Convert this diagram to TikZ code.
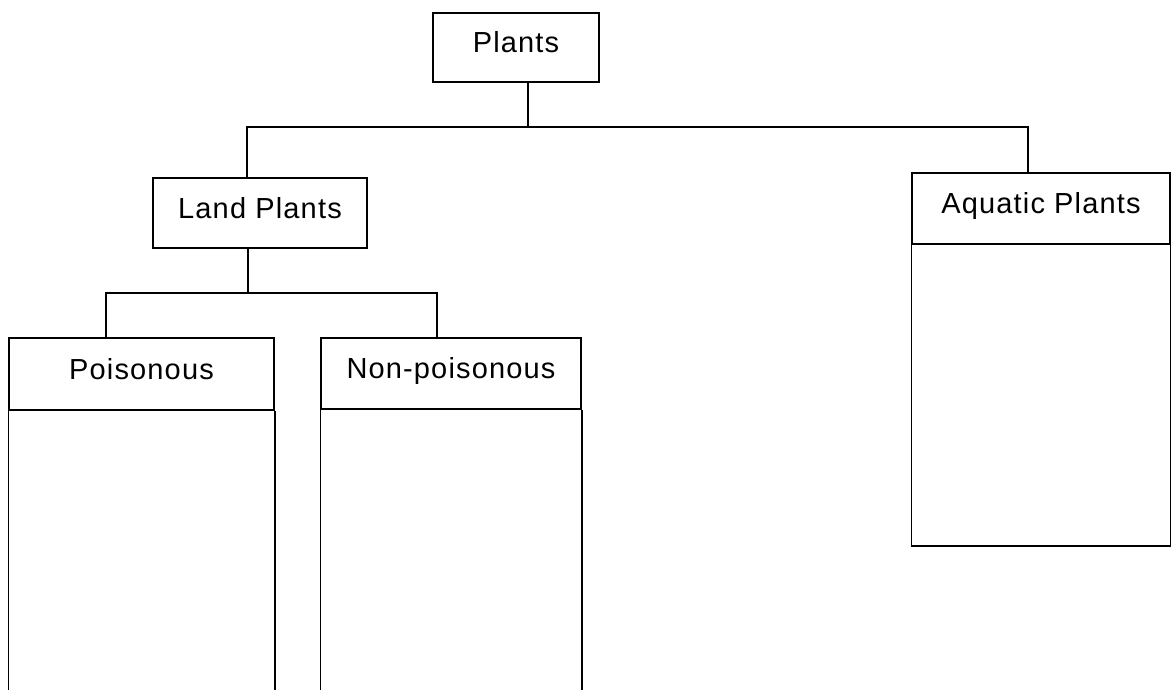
\documentclass[tikz,border=0pt]{standalone}
\usepackage{fontspec}
\newfontfamily\boxfont{Liberation Sans}[LetterSpace=4]
\usetikzlibrary{calc}
\def\BoxLine{1.5pt}
\def\Bottom{692}

\begin{document}
\begin{tikzpicture}[x=1pt,y=-1pt,
    box/.style={draw, line width=\BoxLine, inner sep=0pt,
      text height=20pt, text depth=9.2pt,
      font=\boxfont\fontsize{29}{32}\selectfont},
    link/.style={line width=\BoxLine, line join=miter}]
  \useasboundingbox (0,0) rectangle (1171,689);
  % boxes
  \node[box, minimum width=166pt, minimum height=69pt] (plants) at (516,47.5) {Plants};
  \node[box, minimum width=214pt, minimum height=70pt] (land) at (260,213) {Land Plants};
  \node[box, minimum width=258pt, minimum height=71pt] (aquatic) at (1041,208.5) {Aquatic Plants};
  \node[box, minimum width=265pt, minimum height=72pt] (pois) at (141.5,374) {Poisonous};
  \node[box, minimum width=260pt, minimum height=71pt] (nonpois) at (451,373.5) {Non-poisonous};
  % junctions
  \coordinate (J1) at (528,127);
  \coordinate (J1L) at (247,127);
  \coordinate (J1R) at (1028,127);
  \coordinate (J2) at (248,293);
  \coordinate (J2L) at (106,293);
  \coordinate (J2R) at (437,293);
  % first level
  \draw [link] (plants.south -| J1) -- (J1);
  \draw [link] (land.north -| J1L) -- (J1L) -- (J1R) -- (aquatic.north -| J1R);
  % second level
  \draw [link] (land.south -| J2) -- (J2);
  \draw [link] (pois.north -| J2L) -- (J2L) -- (J2R) -- (nonpois.north -| J2R);
  % lists below the headers
  \foreach \col in {pois,nonpois}
    {
      \draw [link] (\col.south west) -- (\col.south west |- 0,\Bottom);
      \draw [link] (\col.south east) -- (\col.south east |- 0,\Bottom);
    }
  \draw [link] (aquatic.south west) -- ++(0,301) -| (aquatic.south east);
\end{tikzpicture}
\end{document}
